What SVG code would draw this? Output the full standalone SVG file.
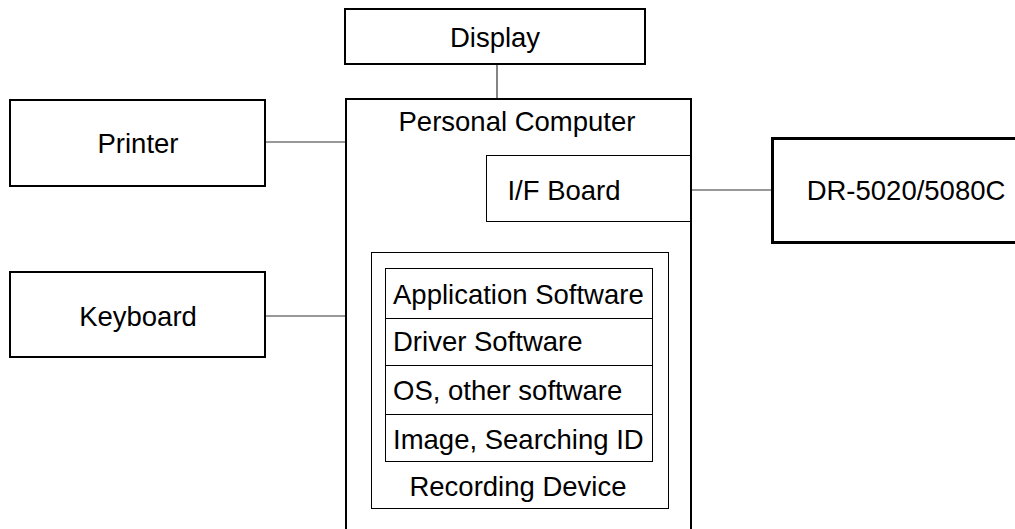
<svg xmlns="http://www.w3.org/2000/svg" width="1015" height="529" viewBox="0 0 1015 529">
<style>
text{font-family:"Liberation Sans",Arial,sans-serif;font-size:27.5px;fill:#000}
.c{text-anchor:middle}
.b2{fill:#fff;stroke:#000;stroke-width:2}
.b1{fill:none;stroke:#000;stroke-width:1}
.b3{fill:#fff;stroke:#000;stroke-width:3}
.ln{stroke:#333;stroke-width:1.2;fill:none}
</style>
<rect width="1015" height="529" fill="#fff"/>
<g id="connectors">
<line class="ln" x1="497" y1="64" x2="497" y2="99"/>
<line class="ln" x1="265" y1="142" x2="346" y2="142"/>
<line class="ln" x1="265" y1="316" x2="346" y2="316"/>
<line class="ln" x1="691" y1="190" x2="772" y2="190"/>
</g>
<g id="display">
<rect class="b2" x="345" y="9" width="300" height="55"/>
<text class="c" x="495" y="47">Display</text>
</g>
<g id="printer">
<rect class="b2" x="10" y="100" width="255" height="86"/>
<text class="c" x="138" y="153">Printer</text>
</g>
<g id="keyboard">
<rect class="b2" x="10" y="272" width="255" height="85"/>
<text class="c" x="138" y="326">Keyboard</text>
</g>
<g id="pc">
<rect class="b2" x="346" y="99" width="345" height="440"/>
<text class="c" x="517" y="131">Personal Computer</text>
</g>
<g id="if-board">
<rect class="b1" x="486.5" y="155.5" width="204" height="66"/>
<text class="c" x="564" y="200">I/F Board</text>
</g>
<g id="dr">
<rect class="b3" x="772.5" y="138.5" width="250" height="104"/>
<text class="c" x="906" y="200">DR-5020/5080C</text>
</g>
<g id="recording-device">
<rect class="b1" x="371.5" y="252.5" width="297" height="256"/>
<text class="c" x="518" y="496">Recording Device</text>
</g>
<g id="software-stack">
<rect class="b1" x="385.5" y="268.5" width="267" height="193"/>
<line class="b1" x1="385" y1="318.5" x2="652" y2="318.5"/>
<line class="b1" x1="385" y1="365.5" x2="652" y2="365.5"/>
<line class="b1" x1="385" y1="414.5" x2="652" y2="414.5"/>
<text x="393" y="304">Application Software</text>
<text x="393" y="351">Driver Software</text>
<text x="393" y="400">OS, other software</text>
<text x="393" y="449">Image, Searching ID</text>
</g>
</svg>
